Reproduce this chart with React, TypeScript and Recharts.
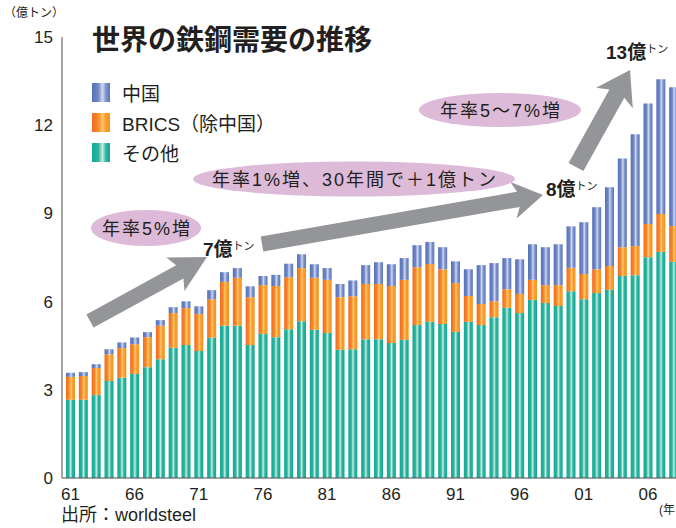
import { BarChart, Bar, XAxis, YAxis, Legend } from "recharts";

const years = [
  "61", "62", "63", "64", "65", "66", "67", "68", "69", "70",
  "71", "72", "73", "74", "75", "76", "77", "78", "79", "80",
  "81", "82", "83", "84", "85", "86", "87", "88", "89", "90",
  "91", "92", "93", "94", "95", "96", "97", "98", "99", "00",
  "01", "02", "03", "04", "05", "06", "07", "08",
];

// 億トン
const others = [
  2.66, 2.66, 2.82, 3.3, 3.41, 3.54, 3.77, 4.04, 4.43, 4.52,
  4.32, 4.77, 5.18, 5.18, 4.52, 4.9, 4.79, 5.06, 5.33, 5.04,
  4.93, 4.36, 4.38, 4.72, 4.72, 4.59, 4.7, 5.2, 5.31, 5.24,
  4.97, 5.31, 5.2, 5.47, 5.79, 5.61, 6.06, 5.95, 5.85, 6.35,
  6.08, 6.29, 6.4, 6.87, 6.9, 7.51, 7.69, 7.35,
];

const brics = [
  0.78, 0.81, 0.92, 0.91, 1.01, 1.01, 1.02, 1.14, 1.18, 1.26,
  1.26, 1.31, 1.49, 1.63, 1.63, 1.66, 1.74, 1.77, 1.81, 1.77,
  1.81, 1.79, 1.8, 1.88, 1.88, 1.94, 2.04, 1.97, 1.97, 1.86,
  1.66, 0.88, 0.72, 0.54, 0.63, 0.65, 0.68, 0.61, 0.71, 0.8,
  0.86, 0.81, 0.81, 0.98, 0.99, 1.13, 1.29, 1.22,
];

const china = [
  0.14, 0.13, 0.13, 0.17, 0.19, 0.23, 0.17, 0.19, 0.2, 0.23,
  0.26, 0.31, 0.33, 0.33, 0.37, 0.31, 0.38, 0.46, 0.47, 0.46,
  0.4, 0.45, 0.54, 0.64, 0.74, 0.74, 0.74, 0.75, 0.75, 0.75,
  0.74, 0.91, 1.32, 1.3, 1.06, 1.18, 1.21, 1.29, 1.39, 1.41,
  1.76, 2.11, 2.68, 3.02, 3.8, 4.1, 4.58, 4.72,
];

const xTicks = ["61", "66", "71", "76", "81", "86", "91", "96", "01", "06"];
const yTicks = [0, 3, 6, 9, 12, 15];
const legendOrder = ["china", "brics", "others"];

const data = years.map((year, i) => ({
  year,
  others: others[i],
  brics: brics[i],
  china: china[i],
}));

const FONT = "'Liberation Sans', 'Noto Sans CJK JP', sans-serif";
const INK = "#231f20";
const ARROW = "#939598";
const PINK = "#dcbad8";

const swatch: Record<string, string> = {
  china: "linear-gradient(90deg,#5470b9 0%,#7088c6 35%,#d0d9f0 58%,#7d93cc 78%,#5a74bb 100%)",
  brics: "linear-gradient(90deg,#f26a21 0%,#f58a2a 35%,#fdc56a 58%,#f99b2c 78%,#f7941d 100%)",
  others: "linear-gradient(90deg,#12a996 0%,#2ab3a1 35%,#c9eadb 58%,#2ab5a3 78%,#10a795 100%)",
};

function arrowPoints(
  x1: number, y1: number, x2: number, y2: number,
  w: number, hl: number, hw: number, notch: number
) {
  const len = Math.hypot(x2 - x1, y2 - y1);
  const ux = (x2 - x1) / len;
  const uy = (y2 - y1) / len;
  const nx = -uy;
  const ny = ux;
  const bx = x2 - ux * hl;
  const by = y2 - uy * hl;
  const kx = x2 - ux * (hl - notch);
  const ky = y2 - uy * (hl - notch);
  const pts = [
    [x1 + (nx * w) / 2, y1 + (ny * w) / 2],
    [kx + (nx * w) / 2, ky + (ny * w) / 2],
    [bx + (nx * hw) / 2, by + (ny * hw) / 2],
    [x2, y2],
    [bx - (nx * hw) / 2, by - (ny * hw) / 2],
    [kx - (nx * w) / 2, ky - (ny * w) / 2],
    [x1 - (nx * w) / 2, y1 - (ny * w) / 2],
  ];
  return pts.map((p) => p.map((v) => v.toFixed(1)).join(",")).join(" ");
}

function renderLegend(props: any) {
  const items = [...(props.payload || [])].sort(
    (a: any, b: any) => legendOrder.indexOf(a.dataKey) - legendOrder.indexOf(b.dataKey)
  );
  return (
    <div style={{ fontFamily: FONT, color: INK }}>
      {items.map((it: any) => (
        <div
          key={it.dataKey}
          style={{ display: "flex", alignItems: "center", height: 30 }}
        >
          <div
            style={{
              width: 18,
              height: 19,
              background: swatch[it.dataKey],
              marginRight: 12,
            }}
          />
          <span style={{ fontSize: 19 }}>{it.value}</span>
        </div>
      ))}
    </div>
  );
}

function Overlay() {
  return (
    <svg
      width={676}
      height={528}
      style={{ position: "absolute", left: 0, top: 0, pointerEvents: "none" }}
      fontFamily={FONT}
    >
      <text x={4} y={13} fontSize={12} fill={INK} dominantBaseline="central">
        （億トン）
      </text>
      <text x={92} y={40} fontSize={28} fontWeight={700} fill={INK} dominantBaseline="central">
        世界の鉄鋼需要の推移
      </text>

      <polygon points={arrowPoints(90, 321, 207, 257, 15, 36, 38, 5)} fill={ARROW} />
      <polygon points={arrowPoints(262, 244, 543, 195, 15.5, 30, 37, 5)} fill={ARROW} />
      <polygon points={arrowPoints(576, 167, 630, 70, 17, 32, 42, 5)} fill={ARROW} />

      <ellipse cx={146} cy={228} rx={55} ry={18} fill={PINK} />
      <text x={147} y={229} fontSize={18} letterSpacing={2} fill={INK} textAnchor="middle" dominantBaseline="central">
        年率5%増
      </text>
      <ellipse cx={354} cy={179} rx={161} ry={17.5} fill={PINK} />
      <text x={355} y={180} fontSize={18} letterSpacing={2} fill={INK} textAnchor="middle" dominantBaseline="central">
        年率1%増、30年間で＋1億トン
      </text>
      <ellipse cx={500} cy={110} rx={81} ry={17} fill={PINK} />
      <text x={501} y={111} fontSize={18} letterSpacing={2} fill={INK} textAnchor="middle" dominantBaseline="central">
        年率5～7%増
      </text>

      <text x={203} y={249} fill={INK} dominantBaseline="central">
        <tspan fontSize={19} fontWeight={700}>7億</tspan>
        <tspan fontSize={11} dy={-3}>トン</tspan>
      </text>
      <text x={546} y={189} fill={INK} dominantBaseline="central">
        <tspan fontSize={19} fontWeight={700}>8億</tspan>
        <tspan fontSize={11} dy={-3}>トン</tspan>
      </text>
      <text x={606} y={52} fill={INK} dominantBaseline="central">
        <tspan fontSize={19} fontWeight={700}>13億</tspan>
        <tspan fontSize={11} dy={-3}>トン</tspan>
      </text>

      <text x={659} y={510} fontSize={12} fill={INK} dominantBaseline="central">
        (年
      </text>
      <text x={61} y={515} fontSize={18} fill={INK} dominantBaseline="central">
        出所：worldsteel
      </text>
    </svg>
  );
}

export default function App() {
  return (
    <div
      style={{
        position: "absolute",
        left: 0,
        top: 0,
        width: 676,
        height: 528,
        overflow: "hidden",
        background: "#fff",
      }}
    >
      <BarChart
        width={680}
        height={528}
        data={data}
        margin={{ top: 37, right: 0, bottom: 0, left: 0 }}
        barSize={9}
      >
        <defs>
          <linearGradient id="gChina" x1="0" y1="0" x2="1" y2="0">
            <stop offset="0%" stopColor="#5470b9" />
            <stop offset="35%" stopColor="#7088c6" />
            <stop offset="55%" stopColor="#d0d9f0" />
            <stop offset="75%" stopColor="#7d93cc" />
            <stop offset="100%" stopColor="#5a74bb" />
          </linearGradient>
          <linearGradient id="gBrics" x1="0" y1="0" x2="1" y2="0">
            <stop offset="0%" stopColor="#f26a21" />
            <stop offset="35%" stopColor="#f58a2a" />
            <stop offset="55%" stopColor="#fdc56a" />
            <stop offset="75%" stopColor="#f99b2c" />
            <stop offset="100%" stopColor="#f7941d" />
          </linearGradient>
          <linearGradient id="gOthers" x1="0" y1="0" x2="1" y2="0">
            <stop offset="0%" stopColor="#12a996" />
            <stop offset="32%" stopColor="#2ab3a1" />
            <stop offset="52%" stopColor="#cdecdd" />
            <stop offset="72%" stopColor="#2ab5a3" />
            <stop offset="100%" stopColor="#10a795" />
          </linearGradient>
        </defs>
        <XAxis
          dataKey="year"
          ticks={xTicks}
          interval={0}
          height={50}
          padding={{ left: 2, right: 0 }}
          tickLine={false}
          tickSize={0}
          tickMargin={10}
          axisLine={{ stroke: "#4d4d4d", strokeWidth: 1 }}
          tick={{ fontSize: 17, fill: INK, fontFamily: FONT }}
        />
        <YAxis
          domain={[0, 15]}
          ticks={yTicks}
          width={62}
          tickLine={false}
          tickSize={0}
          tickMargin={9}
          axisLine={{ stroke: "#4d4d4d", strokeWidth: 1 }}
          tick={{ fontSize: 17, fill: INK, fontFamily: FONT }}
        />
        <Legend
          layout="horizontal"
          verticalAlign="middle"
          align="center"
          wrapperStyle={{ left: 92, top: 77, width: 300 }}
          content={renderLegend}
        />
        <Bar dataKey="others" name="その他" stackId="s" fill="url(#gOthers)" isAnimationActive={false} />
        <Bar dataKey="brics" name="BRICS（除中国）" stackId="s" fill="url(#gBrics)" isAnimationActive={false} />
        <Bar dataKey="china" name="中国" stackId="s" fill="url(#gChina)" isAnimationActive={false} />
      </BarChart>
      <Overlay />
    </div>
  );
}
